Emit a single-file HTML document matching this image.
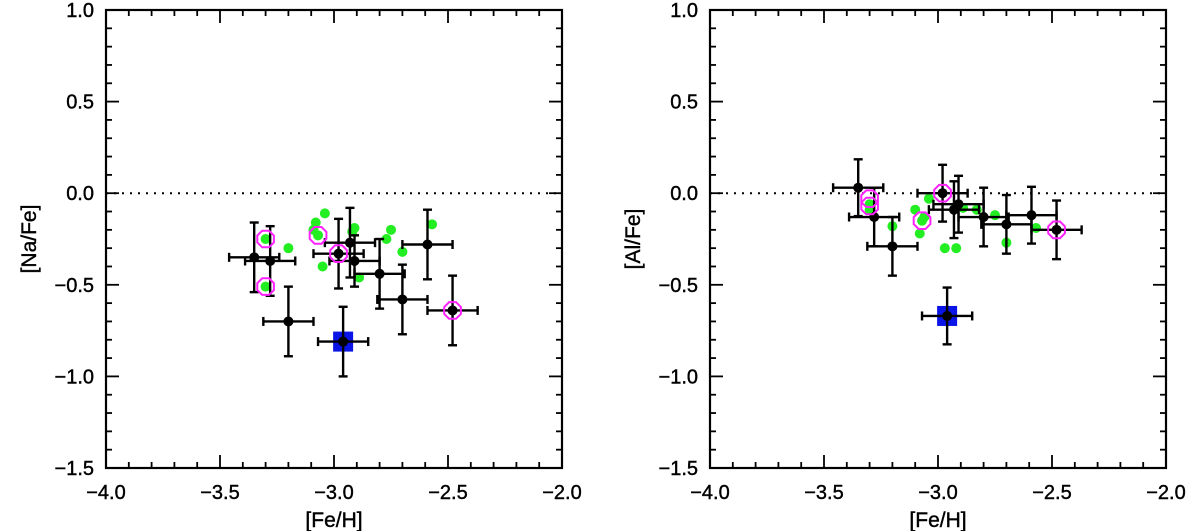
<!DOCTYPE html>
<html><head><meta charset="utf-8"><style>
html,body{margin:0;padding:0;background:#fff;}
svg{display:block;font-family:"Liberation Sans",sans-serif;}
</style></head><body>
<svg id="chart" width="1200" height="531" viewBox="0 0 1200 531" xmlns="http://www.w3.org/2000/svg"></svg>
<script>
// ---- data ----
const naFeH = [-3.35,-3.28,-3.20,-2.98,-2.93,-2.91,-2.80,-2.70,-2.59,-2.48];
const naVal = [-0.35,-0.37,-0.70,-0.33,-0.27,-0.37,-0.44,-0.58,-0.28,-0.64];
const naErrY = [0.19,0.19,0.19,0.19,0.19,0.14,0.19,0.19,0.19,0.19];
const naBlue = [-2.96,-0.81];
const naPinkX = [-3.30,-3.30,-3.07,-2.98,-2.48];
const naPinkY = [-0.25,-0.51,-0.23,-0.33,-0.64];
const naGreenX = [-3.04,-3.08,-3.09,-3.07,-3.30,-3.20,-3.30,-3.05,-2.91,-2.92,-2.89,-2.75,-2.77,-2.70,-2.57];
const naGreenY = [-0.11,-0.16,-0.20,-0.23,-0.25,-0.30,-0.51,-0.40,-0.19,-0.21,-0.46,-0.20,-0.25,-0.32,-0.17];

const alFeH = [-3.35,-3.28,-3.20,-2.98,-2.91,-2.93,-2.80,-2.70,-2.59,-2.48];
const alVal = [0.03,-0.13,-0.29,0.00,-0.06,-0.09,-0.13,-0.17,-0.12,-0.20];
const alErrY = [0.155,0.16,0.16,0.155,0.155,0.155,0.16,0.16,0.155,0.16];
const alBlue = [-2.96,-0.67];
const alPinkX = [-3.30,-3.30,-3.07,-2.98,-2.48];
const alPinkY = [-0.03,-0.07,-0.15,0.00,-0.20];
const alGreenX = [-3.30,-3.30,-3.20,-3.10,-3.04,-3.06,-3.07,-3.08,-2.97,-2.92,-2.89,-2.83,-2.75,-2.70,-2.57];
const alGreenY = [-0.06,-0.09,-0.18,-0.09,-0.03,-0.13,-0.15,-0.22,-0.30,-0.30,-0.08,-0.09,-0.12,-0.27,-0.19];

const xTicks = ["-4.0","-3.5","-3.0","-2.5","-2.0"];
const yTicks = ["1.0","0.5","0.0","-0.5","-1.0","-1.5"];
const errX = 0.11;

const NS="http://www.w3.org/2000/svg";
const svg=document.getElementById('chart');
function mk(tag,attrs,parent){const e=document.createElementNS(NS,tag);for(const k in attrs)e.setAttribute(k,attrs[k]);(parent||svg).appendChild(e);return e;}

function panel(left,right,name,ylabel,fx,fv,fe,blue,px,py,gx,gy){
  const top=10,bot=468;
  const g=mk('g',{});
  
  
  const X=v=>left+(v+4)/2*(right-left);
  const Y=v=>top+(1-v)/2.5*(bot-top);
  const fr=mk('rect',{x:left,y:top,width:right-left,height:bot-top,fill:'none',stroke:'#000','stroke-width':2.2},g);
  
  
  for(let i=0;i<=20;i++){const v=-4+i*0.1;const L=(i%5==0)?13:6;const x=X(v);
    mk('line',{x1:x,y1:bot,x2:x,y2:bot-L,stroke:'#000','stroke-width':1.8},g);
    mk('line',{x1:x,y1:top,x2:x,y2:top+L,stroke:'#000','stroke-width':1.8},g);}
  for(let i=0;i<=25;i++){const v=-1.5+i*0.1;const L=(i%5==0)?13:6;const y=Y(v);
    mk('line',{x1:left,y1:y,x2:left+L,y2:y,stroke:'#000','stroke-width':1.8},g);
    mk('line',{x1:right,y1:y,x2:right-L,y2:y,stroke:'#000','stroke-width':1.8},g);}
  xTicks.forEach(t=>{const e=mk('text',{x:X(parseFloat(t)),y:bot+31,'text-anchor':'middle','font-size':20,'stroke':'#000','stroke-width':0.4},g);e.textContent=t.replace('-','\u2212');
    
    });
  yTicks.forEach(t=>{const e=mk('text',{x:left-12,y:Y(parseFloat(t))+7,'text-anchor':'end','font-size':20,'stroke':'#000','stroke-width':0.4},g);e.textContent=t.replace('-','\u2212');
    
    });
  const xl=mk('text',{x:(left+right)/2,y:527,'text-anchor':'middle','font-size':21,'stroke':'#000','stroke-width':0.4},g);xl.textContent='[Fe/H]';
  
  
  const yl=mk('text',{x:0,y:0,'text-anchor':'middle','font-size':21,'stroke':'#000','stroke-width':0.4,transform:`translate(${left-70},${Y(-0.25)}) rotate(-90)`},g);yl.textContent=ylabel;
  
  
  mk('line',{x1:left,y1:Y(0),x2:right,y2:Y(0),stroke:'#000','stroke-width':2,'stroke-dasharray':'2 6'},g);
  gx.forEach((v,i)=>{const c=mk('circle',{cx:X(v),cy:Y(gy[i]),r:5,fill:'#22ee22'},g);
    
    });
  const bs=mk('rect',{x:X(blue[0])-10,y:Y(blue[1])-10,width:20,height:20,fill:'#0a14e6'},g);
  
  
  const allX=fx.concat([blue[0]]),allY=fv.concat([blue[1]]),allE=fe.concat([fe[0]]);
  allX.forEach((v,i)=>{const x=X(v),y=Y(allY[i]);
    const x1=X(v-errX),x2=X(v+errX),y1=Y(allY[i]+allE[i]),y2=Y(allY[i]-allE[i]);
    const s={stroke:'#000','stroke-width':2.4};
    mk('line',Object.assign({x1:x1,y1:y,x2:x2,y2:y},s),g);
    mk('line',Object.assign({x1:x,y1:y1,x2:x,y2:y2},s),g);
    mk('line',Object.assign({x1:x1,y1:y-4.5,x2:x1,y2:y+4.5},s),g);
    mk('line',Object.assign({x1:x2,y1:y-4.5,x2:x2,y2:y+4.5},s),g);
    mk('line',Object.assign({x1:x-4.5,y1:y1,x2:x+4.5,y2:y1},s),g);
    mk('line',Object.assign({x1:x-4.5,y1:y2,x2:x+4.5,y2:y2},s),g);
    const c=mk('circle',{cx:x,cy:y,r:5,fill:'#000'},g);
    
    });
  px.forEach((v,i)=>{const cx=X(v),cy=Y(py[i]);let pts=[];for(let k=0;k<8;k++){const a=Math.PI/8+k*Math.PI/4;pts.push((cx+9*Math.cos(a)).toFixed(1)+','+(cy+9*Math.sin(a)).toFixed(1));}
    const p=mk('polygon',{points:pts.join(' '),fill:'none',stroke:'#ff22ff','stroke-width':2},g);
    
    });
}
panel(106,562,'na-fe','[Na/Fe]',naFeH,naVal,naErrY,naBlue,naPinkX,naPinkY,naGreenX,naGreenY);
panel(710,1166,'al-fe','[Al/Fe]',alFeH,alVal,alErrY,alBlue,alPinkX,alPinkY,alGreenX,alGreenY);
</script>
</body></html>
